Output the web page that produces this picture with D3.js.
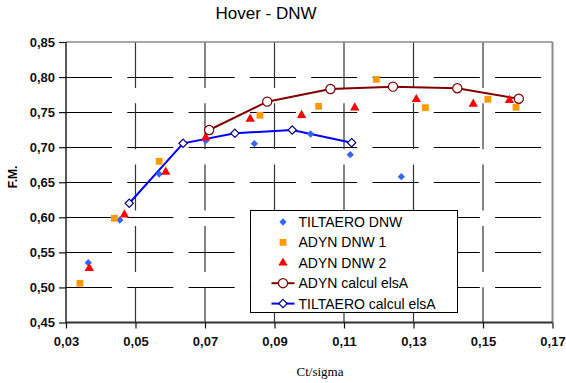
<!DOCTYPE html>
<html>
<head>
<meta charset="utf-8">
<script src="https://cdn.jsdelivr.net/npm/d3@7"></script>
<style>
  html, body { margin: 0; padding: 0; background: #fff; }
  svg { display: block; }
</style>
</head>
<body>
<svg id="chart" width="566" height="383"></svg>
<script>
// Measured series: [Ct/sigma, F.M.]
const tiltaeroDNW = [
  [0.0364, 0.5353], [0.0455, 0.5962], [0.0568, 0.6618], [0.0702, 0.7093],
  [0.0842, 0.7050], [0.1004, 0.7188], [0.1118, 0.6893], [0.1265, 0.6579]
];
const adynDNW1 = [
  [0.0340, 0.5059], [0.0439, 0.5986], [0.0568, 0.6799], [0.0713, 0.7231],
  [0.0858, 0.7455], [0.1027, 0.7583], [0.1193, 0.7968], [0.1334, 0.7563],
  [0.1514, 0.7683], [0.1595, 0.7569]
];
const adynDNW2 = [
  [0.0367, 0.5273], [0.0468, 0.6037], [0.0587, 0.6646], [0.0702, 0.7135],
  [0.0830, 0.7402], [0.0978, 0.7455], [0.1131, 0.7563], [0.1308, 0.7683],
  [0.1472, 0.7616], [0.1576, 0.7669]
];
// Computed curves (elsA)
const adynElsA = [
  [0.0712, 0.7245], [0.0879, 0.7649], [0.1061, 0.7830], [0.1241, 0.7863],
  [0.1426, 0.7840], [0.1603, 0.7691]
];
const tiltaeroElsA = [
  [0.0482, 0.6200], [0.0637, 0.7055], [0.0786, 0.7198], [0.0951, 0.7245],
  [0.1122, 0.7064]
];

const xTicks = [0.03, 0.05, 0.07, 0.09, 0.11, 0.13, 0.15, 0.17];
const yTicks = [0.45, 0.50, 0.55, 0.60, 0.65, 0.70, 0.75, 0.80, 0.85];
const legendLabels = ["TILTAERO DNW", "ADYN DNW 1", "ADYN DNW 2", "ADYN calcul elsA", "TILTAERO calcul elsA"];

const svg = d3.select("#chart");
const plotLeft = 66, plotRight = 552.5, plotTop = 42, plotBottom = 322.5;

const x = d3.scaleLinear().domain([0.03, 0.17]).range([plotLeft, plotRight]);
const y = d3.scaleLinear().domain([0.45, 0.85]).range([plotBottom, plotTop]);
const fmt2 = d => d3.format(".2f")(d).replace(".", ",");

svg.append("rect").attr("width", 566).attr("height", 383).attr("fill", "#fff");

// Title
svg.append("text")
  .attr("x", 266).attr("y", 19)
  .attr("text-anchor", "middle")
  .attr("font-family", "Liberation Sans, Arial, sans-serif")
  .attr("font-size", 17)
  .attr("fill", "#000")
  .text("Hover - DNW");

// Grid
const grid = svg.append("g");
grid.selectAll("line.h")
  .data(yTicks.filter(v => v > 0.46 && v < 0.84))
  .join("line")
  .attr("x1", plotLeft).attr("x2", plotRight)
  .attr("y1", d => Math.round(y(d)) + 0.5).attr("y2", d => Math.round(y(d)) + 0.5)
  .attr("stroke", "#000").attr("stroke-width", 1)
  .attr("stroke-dasharray", "46,15.3");
grid.selectAll("line.v")
  .data(xTicks.filter(v => v > 0.031 && v < 0.169))
  .join("line")
  .attr("y1", plotTop).attr("y2", plotBottom)
  .attr("x1", d => x(d)).attr("x2", d => x(d))
  .attr("stroke", "#333").attr("stroke-width", 1.2)
  .attr("stroke-dasharray", "46,15.3");

// Plot frame (top and right)
svg.append("line").attr("x1", plotLeft).attr("x2", plotRight).attr("y1", plotTop).attr("y2", plotTop)
  .attr("stroke", "#8a8a8a").attr("stroke-width", 1.5);
svg.append("line").attr("x1", plotRight).attr("x2", plotRight).attr("y1", plotTop).attr("y2", plotBottom)
  .attr("stroke", "#8a8a8a").attr("stroke-width", 2);

// Axes
const yAxis = svg.append("g")
  .attr("transform", `translate(${plotLeft},0)`)
  .call(d3.axisLeft(y).tickValues(yTicks).tickFormat(fmt2).tickSize(7).tickPadding(4));
const xAxis = svg.append("g")
  .attr("transform", `translate(0,${plotBottom})`)
  .call(d3.axisBottom(x).tickValues(xTicks).tickFormat(fmt2).tickSize(6).tickPadding(8));
[yAxis, xAxis].forEach(g => {
  g.selectAll("text")
    .attr("font-family", "Liberation Sans, Arial, sans-serif")
    .attr("font-size", 13).attr("font-weight", "bold").attr("fill", "#111");
  g.selectAll("line").attr("stroke", "#111").attr("stroke-width", 1.2);
});
yAxis.select(".domain").attr("stroke", "#000").attr("stroke-width", 1.3).attr("d", `M0,${plotTop}V${plotBottom}`);
xAxis.select(".domain").attr("stroke", "#333").attr("stroke-width", 2).attr("d", `M${plotLeft},0H${plotRight}`);

// Axis titles
svg.append("text")
  .attr("transform", "translate(17,177) rotate(-90)")
  .attr("text-anchor", "middle")
  .attr("font-family", "Liberation Sans, Arial, sans-serif")
  .attr("font-size", 12).attr("font-weight", "bold")
  .text("F.M.");
svg.append("text")
  .attr("x", 320).attr("y", 376)
  .attr("text-anchor", "middle")
  .attr("font-family", "Liberation Serif, Times New Roman, serif")
  .attr("font-size", 13)
  .text("Ct/sigma");

// Marker shapes
const sym = {
  diamond: d3.symbol().type(d3.symbolDiamond2).size(34),
  square: d3.symbol().type(d3.symbolSquare).size(46),
  triangle: d3.symbol().type(d3.symbolTriangle).size(38),
  circle: d3.symbol().type(d3.symbolCircle).size(66),
  openDiamond: d3.symbol().type(d3.symbolDiamond2).size(44)
};

const styles = [
  { data: tiltaeroDNW, shape: "diamond", fill: "#3366ff", stroke: "none", line: null },
  { data: adynDNW1, shape: "square", fill: "#ff9900", stroke: "none", line: null },
  { data: adynDNW2, shape: "triangle", fill: "#ff0000", stroke: "none", line: null },
  { data: adynElsA, shape: "circle", fill: "#fff", stroke: "#800000", line: "#800000" },
  { data: tiltaeroElsA, shape: "openDiamond", fill: "#fff", stroke: "#000080", line: "#0000ff" }
];

const lineGen = d3.line().x(d => x(d[0])).y(d => y(d[1]));
const plot = svg.append("g");

styles.forEach(s => {
  if (s.line) {
    plot.append("path").datum(s.data)
      .attr("d", lineGen).attr("fill", "none")
      .attr("stroke", s.line).attr("stroke-width", 2);
  }
});
styles.forEach(s => {
  plot.append("g").selectAll("path").data(s.data).join("path")
    .attr("transform", d => `translate(${x(d[0])},${y(d[1])})`)
    .attr("d", sym[s.shape])
    .attr("fill", s.fill)
    .attr("stroke", s.stroke)
    .attr("stroke-width", s.stroke === "none" ? 0 : 1.2);
});

// Legend
const lg = svg.append("g").attr("transform", "translate(250.5,210.5)");
lg.append("rect").attr("width", 207).attr("height", 102)
  .attr("fill", "#fff").attr("stroke", "#000").attr("stroke-width", 1);
styles.forEach((s, i) => {
  const cy = 11.5 + i * 20.4;
  if (s.line) {
    lg.append("line").attr("x1", 21).attr("x2", 44).attr("y1", cy).attr("y2", cy)
      .attr("stroke", s.line).attr("stroke-width", 2);
  }
  lg.append("path")
    .attr("transform", `translate(32.5,${cy})`)
    .attr("d", sym[s.shape])
    .attr("fill", s.fill)
    .attr("stroke", s.stroke)
    .attr("stroke-width", s.stroke === "none" ? 0 : 1.2);
  lg.append("text")
    .attr("x", 48).attr("y", cy + 5)
    .attr("font-family", "Liberation Sans, Arial, sans-serif")
    .attr("font-size", 14).attr("fill", "#000")
    .text(legendLabels[i]);
});
</script>
</body>
</html>
